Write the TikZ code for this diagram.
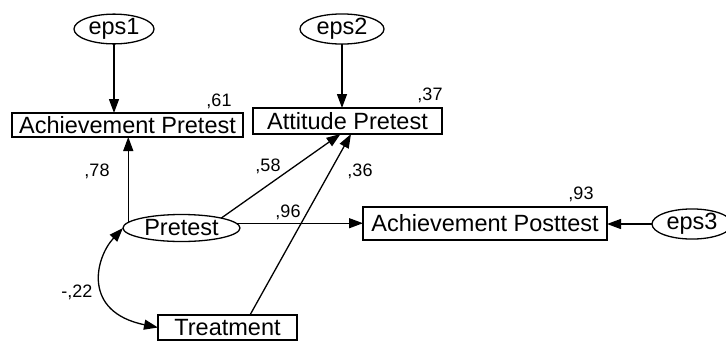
\documentclass[tikz,border=0pt]{standalone}
\usepackage{fontspec}
\setmainfont{Liberation Sans}
\usetikzlibrary{arrows.meta,shapes.geometric,calc}
\begin{document}
\begin{tikzpicture}[x=1pt,y=-1pt,
  every node/.style={inner sep=0pt,outer sep=0pt},
  var/.style={draw,line width=1.3pt,rectangle,font=\fontsize{23.5}{26}\selectfont,minimum height=25pt},
  lat/.style={draw,line width=1.3pt,ellipse,font=\fontsize{23.5}{26}\selectfont,minimum width=80pt,minimum height=28pt},
  lab/.style={font=\fontsize{18}{20}\selectfont},
  arr/.style={line width=1.3pt,-{Triangle[length=14pt,width=10pt]}},
  arrtwo/.style={line width=1.3pt,{Triangle[length=14pt,width=10pt]}-{Triangle[length=14pt,width=10pt]}}
]
\useasboundingbox (0,0) rectangle (726,341);
\fill[white] (0,0) rectangle (726,341);
% nodes
\node[lat] (eps1) at (114,29) {eps1};
\node[lat,minimum width=84pt] (eps2) at (342,29) {eps2};
\node[lat] (eps3) at (692,224) {eps3};
\node[var,minimum width=231pt,minimum height=24pt] (AchPre) at (127.5,125) {Achievement Pretest};
\node[var,minimum width=189pt,minimum height=26pt] (AttPre) at (347.5,121) {Attitude Pretest};
\node[var,minimum width=244pt,minimum height=33pt] (Post) at (485,223.5) {Achievement Posttest};
\node[lat,minimum width=117pt,minimum height=27pt] (Pre) at (181.5,228) {Pretest};
\node[var,minimum width=139pt] (Treat) at (227.5,327.5) {Treatment};
% labels
\node[lab] (l61) at (219,101) {,61};
\node[lab] (l37) at (430,95) {,37};
\node[lab] (l78) at (97,171) {,78};
\node[lab] (l58) at (268,166) {,58};
\node[lab] (l36) at (360,171) {,36};
\node[lab] (l96) at (288,212) {,96};
\node[lab] (l93) at (581,194) {,93};
\node[lab] (l22) at (77,292) {-,22};
% connectors
\draw[arr] (eps1.south) -- (eps1.south |- AchPre.north);
\draw[arr] (eps2.south) -- (eps2.south |- AttPre.north);
\draw[arr] (Pre.174) -- (Pre.174 |- AchPre.south);
\draw[arr] (Pre.14) -- ($(AttPre.south)+(-7,0)$);
\draw[arr] ($(Treat.north)+(22.5,0)$) -- ($(AttPre.south)+(3.5,0)$);
\draw[arr] (Pre.5) -- (Pre.5 -| Post.west);
\draw[arr] (eps3.west) -- (eps3.west -| Post.east);
\draw[arrtwo] (Pre.west) .. controls (95,258) and (82,312) .. (Treat.west);
\end{tikzpicture}
\end{document}
